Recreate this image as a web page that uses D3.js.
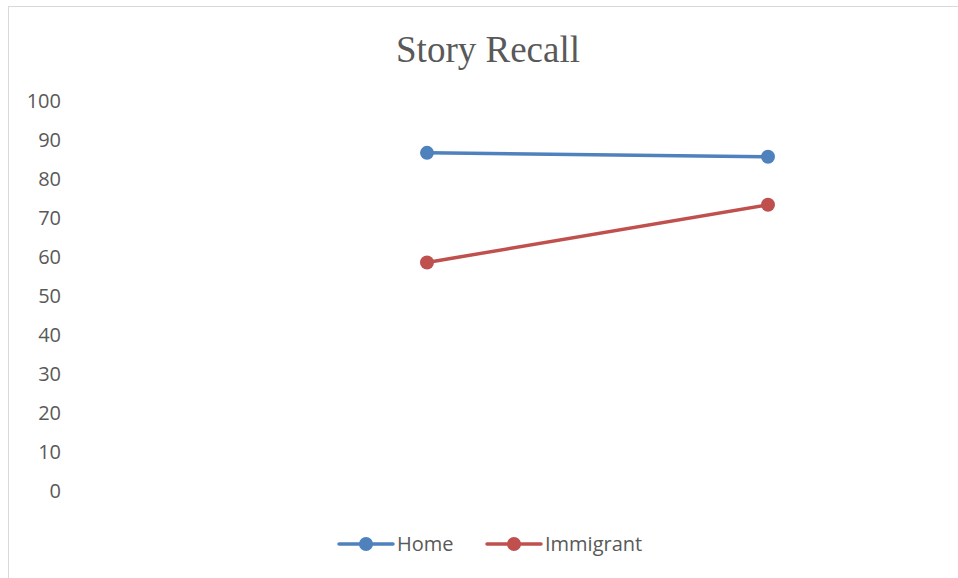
<!DOCTYPE html>
<html>
<head>
<meta charset="utf-8">
<script src="https://cdn.jsdelivr.net/npm/d3@7"></script>
<style>
  body { margin: 0; background: #fff; }
  svg { display: block; }
</style>
</head>
<body>
<div id="chart"></div>
<script>
// chart data
const categories = ["Time 1", "Time 2"];
const seriesNames = ["Home", "Immigrant"];
const homeValues = [86.7, 85.7];
const immigrantValues = [58.6, 73.4];
const yTicks = [0, 10, 20, 30, 40, 50, 60, 70, 80, 90, 100];
const seriesColors = ["#4F81BD", "#C0504D"];

const width = 958, height = 578;
const textColor = "#595959";
const labelFont = "'Open Sans', 'Noto Sans', sans-serif";

const svg = d3.select("#chart").append("svg")
  .attr("width", width)
  .attr("height", height);

// chart area border (only top/left visible in the capture)
svg.append("rect")
  .attr("x", 8.5).attr("y", 6.5)
  .attr("width", width + 20).attr("height", height + 20)
  .attr("fill", "none")
  .attr("stroke", "#d9d9d9");

svg.append("text")
  .attr("x", 488).attr("y", 62)
  .attr("text-anchor", "middle")
  .attr("font-family", "'Liberation Serif', 'Times New Roman', serif")
  .attr("font-size", 37)
  .attr("fill", textColor)
  .text("Story Recall");

const x = d3.scalePoint().domain(categories).range([427, 768]);
const y = d3.scaleLinear().domain([0, 100]).range([491, 101]);

// y axis: labels only
const yAxis = svg.append("g")
  .attr("transform", "translate(70,0)")
  .call(d3.axisLeft(y).tickValues(yTicks).tickSize(0).tickPadding(9));
yAxis.select(".domain").remove();
yAxis.selectAll("text")
  .attr("font-family", labelFont)
  .attr("font-size", 20)
  .attr("fill", textColor);

const series = [homeValues, immigrantValues].map((vals, i) => ({
  name: seriesNames[i],
  color: seriesColors[i],
  points: vals.map((v, j) => ({ cat: categories[j], value: v }))
}));

const line = d3.line().x(d => x(d.cat)).y(d => y(d.value));

const g = svg.selectAll(".series").data(series).enter().append("g").attr("class", "series");
g.append("path")
  .attr("d", d => line(d.points))
  .attr("fill", "none")
  .attr("stroke", d => d.color)
  .attr("stroke-width", 3.5)
  .attr("stroke-linecap", "round");
g.each(function (s) {
  d3.select(this).selectAll("circle").data(s.points).enter().append("circle")
    .attr("cx", d => x(d.cat))
    .attr("cy", d => y(d.value))
    .attr("r", 7)
    .attr("fill", s.color);
});

// legend
const legendX = [339, 487];
const legend = svg.selectAll(".legend").data(series).enter().append("g")
  .attr("class", "legend")
  .attr("transform", (d, i) => `translate(${legendX[i]},544)`);
legend.append("line")
  .attr("x1", 0).attr("x2", 54)
  .attr("stroke", d => d.color)
  .attr("stroke-width", 3.5)
  .attr("stroke-linecap", "round");
legend.append("circle")
  .attr("cx", 27).attr("r", 7)
  .attr("fill", d => d.color);
legend.append("text")
  .attr("x", 58).attr("dy", "0.35em")
  .attr("font-family", labelFont)
  .attr("font-size", 20)
  .attr("fill", textColor)
  .text(d => d.name);
</script>
</body>
</html>
